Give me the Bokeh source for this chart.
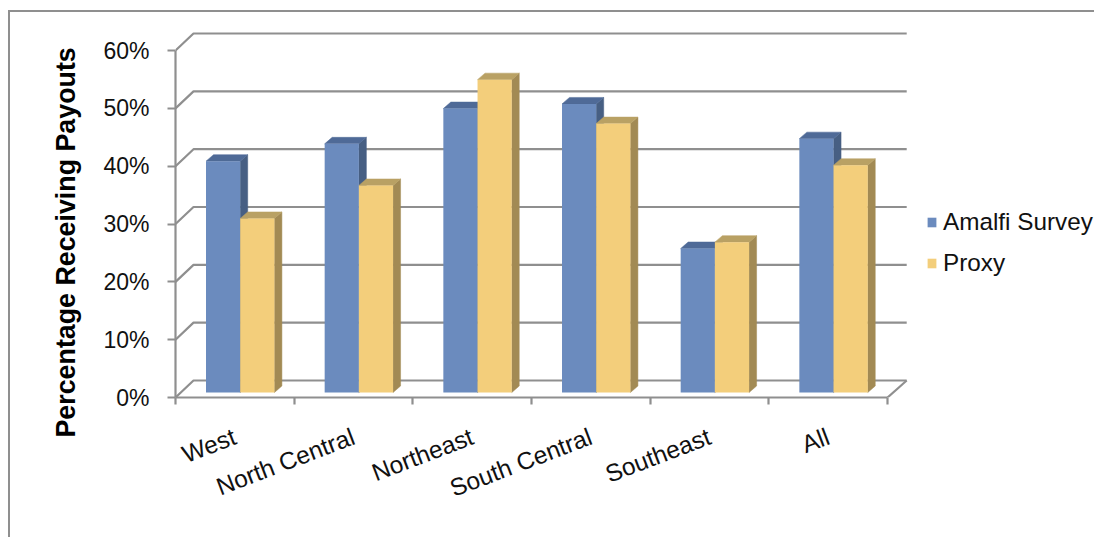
from bokeh.plotting import figure
from bokeh.models import FixedTicker, Range1d, Legend, LegendItem, Title, InlineStyleSheet
from bokeh.embed import file_html
from bokeh.resources import INLINE
import math

categories = ["West", "North Central", "Northeast", "South Central", "Southeast", "All"]
amalfi = [40.0, 43.0, 49.1, 49.9, 24.9, 43.9]
proxy = [30.1, 35.8, 54.1, 46.5, 26.0, 39.3]
y_ticks = [0, 10, 20, 30, 40, 50, 60]

FONT = "Liberation Sans"
GRID = "#8f8f8f"
TEXT = "#111111"

W, H = 1094, 537
BL, BB = 175, 140
PX_X, PX_Y = 118.67, 5.783          # pixels per category / per percent

p = figure(width=W, height=H, output_backend="svg", toolbar_location=None,
           x_range=Range1d(0, (W - BL) / PX_X), y_range=Range1d(0, (H - BB) / PX_Y),
           min_border_left=BL, min_border_bottom=BB, min_border_top=0, min_border_right=0,
           outline_line_color=None, background_fill_color="white", border_fill_color="white")
p.grid.visible = False

# outer frame of the chart (left and top edges)
p.stylesheets = [InlineStyleSheet(css=(
    ":host::after{content:'';position:absolute;left:7.5px;top:9.5px;right:-5px;bottom:-5px;"
    f"border-left:2.5px solid {GRID};border-top:2.5px solid {GRID};pointer-events:none;}}"
    ":host{overflow:hidden;}"
))]

n = len(categories)
WALL_X, WALL_Y = 18 / PX_X, 17 / PX_Y

# 3-D walls: back-wall gridlines and side-wall diagonals, floor edge on the right
xs = [[0, WALL_X, n + WALL_X + 0.01] for _ in y_ticks]
ys = [[v, v + WALL_Y, v + WALL_Y] for v in y_ticks]
xs.append([n, n + WALL_X + 0.01])
ys.append([0, WALL_Y])
p.multi_line(xs, ys, line_color=GRID, line_width=2.2)

BAR_W = 34.2 / PX_X
BAR_OFF = 30.5 / PX_X
BASE = 5 / PX_Y
DEPTH_X, DEPTH_Y = 7.5 / PX_X, 6.5 / PX_Y


def draw(values, offset, front, side, top):
    lefts = [i + BAR_OFF + offset * BAR_W for i in range(n)]
    rights = [l + BAR_W for l in lefts]
    tops = [BASE + v for v in values]
    p.patches([[r, r + DEPTH_X, r + DEPTH_X, r] for r in rights],
              [[BASE, BASE + DEPTH_Y, t + DEPTH_Y, t] for t in tops],
              fill_color=side, line_color=side, line_width=0.5)
    p.patches([[l, l + DEPTH_X, r + DEPTH_X, r] for l, r in zip(lefts, rights)],
              [[t, t + DEPTH_Y, t + DEPTH_Y, t] for t in tops],
              fill_color=top, line_color=top, line_width=0.5)
    return p.quad(left=lefts, right=rights, bottom=[BASE] * n, top=tops,
                  fill_color=front, line_color=None)


r_a = draw(amalfi, 0, "#6B8BBE", "#475F83", "#4F6A97")
r_p = draw(proxy, 1, "#F3CE7B", "#A28A54", "#B9A164")

# axes
ya = p.yaxis[0]
ya.ticker = FixedTicker(ticks=y_ticks)
ya.major_label_overrides = {v: f"{v}%" for v in y_ticks}
ya.bounds = (0, 60)
ya.axis_line_color = GRID
ya.axis_line_width = 2.2
ya.major_tick_line_color = GRID
ya.major_tick_line_width = 2.2
ya.major_tick_out = 8
ya.major_tick_in = 0
ya.minor_tick_line_color = None
ya.major_label_standoff = 18
ya.major_label_text_font = FONT
ya.major_label_text_font_size = "23px"
ya.major_label_text_color = TEXT

title = Title(text="Percentage Receiving Payouts", align="left", offset=-40, standoff=39,
              text_font=FONT, text_font_size="26.8px", text_font_style="bold",
              text_color="#000000")
p.add_layout(title, "left")

xa = p.xaxis[0]
xa.ticker = FixedTicker(ticks=[i + 0.5 for i in range(n)], minor_ticks=list(range(n + 1)))
xa.major_label_overrides = {i + 0.5: c for i, c in enumerate(categories)}
xa.bounds = (0, n)
xa.axis_line_color = GRID
xa.axis_line_width = 2.2
xa.major_tick_line_color = None
xa.major_tick_out = 0
xa.major_tick_in = 0
xa.minor_tick_line_color = GRID
xa.minor_tick_line_width = 2.2
xa.minor_tick_out = 7
xa.minor_tick_in = 0
xa.major_label_orientation = math.radians(21)
xa.major_label_standoff = 31
xa.major_label_text_font = FONT
xa.major_label_text_font_size = "24.5px"
xa.major_label_text_color = TEXT

legend = Legend(items=[LegendItem(label="Amalfi Survey", renderers=[r_a]),
                       LegendItem(label="Proxy", renderers=[r_p])],
                location=(751, 120), orientation="vertical",
                border_line_color=None, background_fill_color=None,
                padding=0, margin=0, spacing=13,
                glyph_width=11, glyph_height=12, label_standoff=6,
                label_height=28, label_text_font=FONT, label_text_font_size="24.3px",
                label_text_color=TEXT)
p.add_layout(legend)

open("out.html", "w").write(file_html(p, INLINE))
